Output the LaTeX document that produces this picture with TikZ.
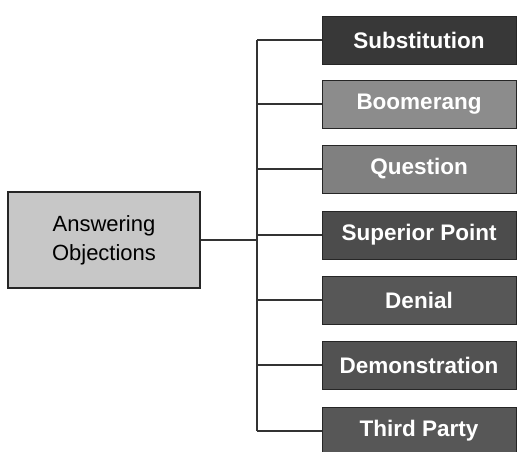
\documentclass[tikz,border=0pt]{standalone}
\usepackage{fontspec}
\setmainfont{Liberation Sans}
\begin{document}
\begin{tikzpicture}[x=1pt,y=-1pt,
  conn/.style={draw=black!80, line width=1.1pt},
  rbox/.style={draw=black!85, line width=1pt, minimum width=194pt, minimum height=48pt,
    inner sep=0pt, text=white, font=\fontsize{22.5}{26}\selectfont\bfseries},
  mainbox/.style={draw=black!85, line width=1.1pt, fill=black!22, minimum width=192pt,
    minimum height=96pt, align=center, font=\fontsize{22}{29}\selectfont}]
\useasboundingbox (0,0) rectangle (518,451);
\node[mainbox] (main) at (104,240) {Answering\\Objections};
\node[rbox, fill=black!78] (b1) at (419,40) {Substitution};
\node[rbox, fill=black!45] (b2) at (419,104) {Boomerang};
\node[rbox, fill=black!50] (b3) at (419,169) {Question};
\node[rbox, fill=black!70] (b4) at (419,235) {Superior Point};
\node[rbox, fill=black!66] (b5) at (419,300) {Denial};
\node[rbox, fill=black!68] (b6) at (419,365) {Demonstration};
\node[rbox, fill=black!66] (b7) at (419,431) {Third Party};
\coordinate (jn) at (257,237);
\draw[conn] (main.east) -- (jn |- main.east);
\draw[conn] (jn |- b1.west) -- (jn |- b7.west);
\foreach \i in {1,...,7} {
  \draw[conn] (jn |- b\i.west) -- (b\i.west);
}
\end{tikzpicture}
\end{document}
